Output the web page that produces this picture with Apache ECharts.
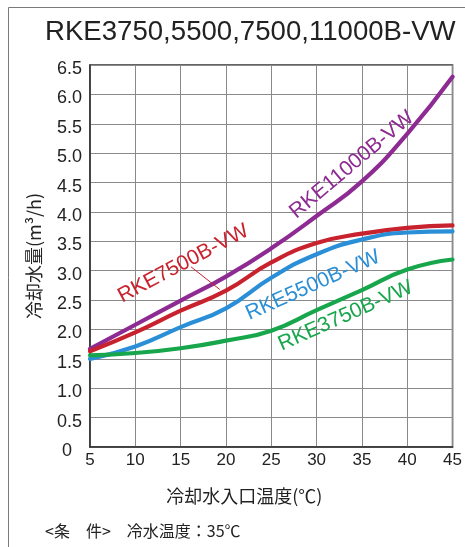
<!DOCTYPE html>
<html>
<head>
<meta charset="utf-8">
<script src="https://cdn.jsdelivr.net/npm/echarts@6/dist/echarts.min.js"></script>
<style>
  html, body { margin: 0; padding: 0; background: #fff; }
  #chart { width: 465px; height: 547px; }
</style>
</head>
<body>
<div id="chart"></div>
<script>
// Cooling water inlet temperature (°C)
const temps = [5, 10, 15, 20, 25, 30, 35, 40, 45];

// Cooling water flow (m³/h) for each model
const rke11000 = [1.67, 2.08, 2.49, 2.90, 3.38, 3.93, 4.52, 5.33, 6.30];
const rke7500  = [1.63, 1.95, 2.32, 2.66, 3.14, 3.47, 3.63, 3.73, 3.77];
const rke5500  = [1.50, 1.71, 2.04, 2.36, 2.88, 3.28, 3.53, 3.65, 3.67];
const rke3750  = [1.56, 1.60, 1.68, 1.81, 1.98, 2.33, 2.67, 3.02, 3.19];

// Axis ticks
const xTicks = [5, 10, 15, 20, 25, 30, 35, 40, 45];
const yTicks = [0, 0.5, 1.0, 1.5, 2.0, 2.5, 3.0, 3.5, 4.0, 4.5, 5.0, 5.5, 6.0, 6.5];

const titleText = 'RKE3750,5500,7500,11000B-VW';
const xName = '冷却水入口温度(℃)';
const yName = '冷却水量(m³/h)';
const noteText = '<条　件>　冷水温度：35℃';

const COLORS = {
  purple: '#8e2b93',
  red: '#c8222e',
  blue: '#2a8fd6',
  green: '#17a64c'
};

const seriesDefs = [
  { name: 'RKE11000B-VW', values: rke11000, color: COLORS.purple },
  { name: 'RKE7500B-VW',  values: rke7500,  color: COLORS.red },
  { name: 'RKE5500B-VW',  values: rke5500,  color: COLORS.blue },
  { name: 'RKE3750B-VW',  values: rke3750,  color: COLORS.green }
];

// In-plot model labels, anchored in data coordinates
const curveLabels = [
  { text: 'RKE11000B-VW', t: 33.9, v: 4.80, angle: 40, color: COLORS.purple },
  { text: 'RKE7500B-VW',  t: 15.3, v: 3.12, angle: 28, color: COLORS.red },
  { text: 'RKE5500B-VW',  t: 29.6, v: 2.75, angle: 24, color: COLORS.blue },
  { text: 'RKE3750B-VW',  t: 33.2, v: 2.23, angle: 24, color: COLORS.green }
];
// Leader line from the RKE7500 label to its curve
const leader = { from: [16.15, 3.065], to: [19.32, 2.68], color: COLORS.red };

const LATIN = '"Liberation Sans", Arial, sans-serif';
const CJK = '"Noto Sans CJK JP", "Noto Sans", sans-serif';

const chart = echarts.init(document.getElementById('chart'), null, { renderer: 'canvas' });

const option = {
  animation: false,
  backgroundColor: '#fff',
  grid: {
    left: 90, top: 65, width: 366, height: 382,
    show: true, borderColor: '#333', borderWidth: 1.5, backgroundColor: 'transparent'
  },
  xAxis: {
    type: 'value',
    min: xTicks[0], max: xTicks[xTicks.length - 1], interval: 5,
    axisLine: { show: true, lineStyle: { color: '#333', width: 1.5 } },
    axisTick: { show: false },
    splitLine: { show: true, lineStyle: { color: '#8a8a8a', width: 1 } },
    axisLabel: {
      color: '#222', fontSize: 17, fontFamily: LATIN, margin: 5,
      formatter: v => xTicks.includes(v) ? String(v) : ''
    },
    name: xName,
    nameLocation: 'middle',
    nameGap: 40,
    nameTextStyle: { color: '#222', fontSize: 18, fontFamily: CJK, padding: [0, 54, 0, 0] }
  },
  yAxis: {
    type: 'value',
    min: yTicks[0], max: yTicks[yTicks.length - 1], interval: 0.5,
    axisLine: { show: true, lineStyle: { color: '#333', width: 1.5 } },
    axisTick: { show: false },
    splitLine: { show: true, lineStyle: { color: '#8a8a8a', width: 1 } },
    axisLabel: {
      color: '#222', fontSize: 18, fontFamily: LATIN, margin: 8,
      padding: [8, 0, 0, 0],
      formatter: v => v === 0 ? '{z|0}' : v.toFixed(1),
      rich: { z: { fontSize: 18, fontFamily: LATIN, color: '#222', padding: [0, 10, 0, 0] } }
    },
    name: yName,
    nameLocation: 'middle',
    nameRotate: 90,
    nameGap: 47,
    nameTextStyle: { color: '#222', fontSize: 18, fontFamily: CJK }
  },
  series: seriesDefs.map(s => ({
    name: s.name,
    type: 'line',
    data: temps.map((t, i) => [t, s.values[i]]),
    smooth: 0.5,
    symbol: 'none',
    lineStyle: { color: s.color, width: 4.2, cap: 'round' },
    z: 3
  }))
};

chart.setOption(option);

const graphics = [
  // outer frame
  {
    type: 'rect', silent: true,
    shape: { x: 8.5, y: 7.5, width: 600, height: 600 },
    style: { fill: 'none', stroke: '#7a7a7a', lineWidth: 1 }
  },
  {
    type: 'text', x: 45, y: 32,
    style: { text: titleText, fill: '#222', font: '27.6px ' + LATIN, align: 'left', verticalAlign: 'middle' }
  },
  {
    type: 'text', x: 45, y: 531,
    style: { text: noteText, fill: '#222', font: '16px ' + CJK, align: 'left', verticalAlign: 'middle' }
  }
];

curveLabels.forEach(l => {
  const p = chart.convertToPixel({ gridIndex: 0 }, [l.t, l.v]);
  graphics.push({
    type: 'text', x: p[0], y: p[1], rotation: l.angle * Math.PI / 180, z: 10,
    style: { text: l.text, fill: l.color, font: '21px ' + LATIN, align: 'center', verticalAlign: 'middle' }
  });
});

const a = chart.convertToPixel({ gridIndex: 0 }, leader.from);
const b = chart.convertToPixel({ gridIndex: 0 }, leader.to);
graphics.push({
  type: 'line', z: 10,
  shape: { x1: a[0], y1: a[1], x2: b[0], y2: b[1] },
  style: { stroke: leader.color, lineWidth: 1 }
});

chart.setOption({ graphic: graphics });
</script>
</body>
</html>
